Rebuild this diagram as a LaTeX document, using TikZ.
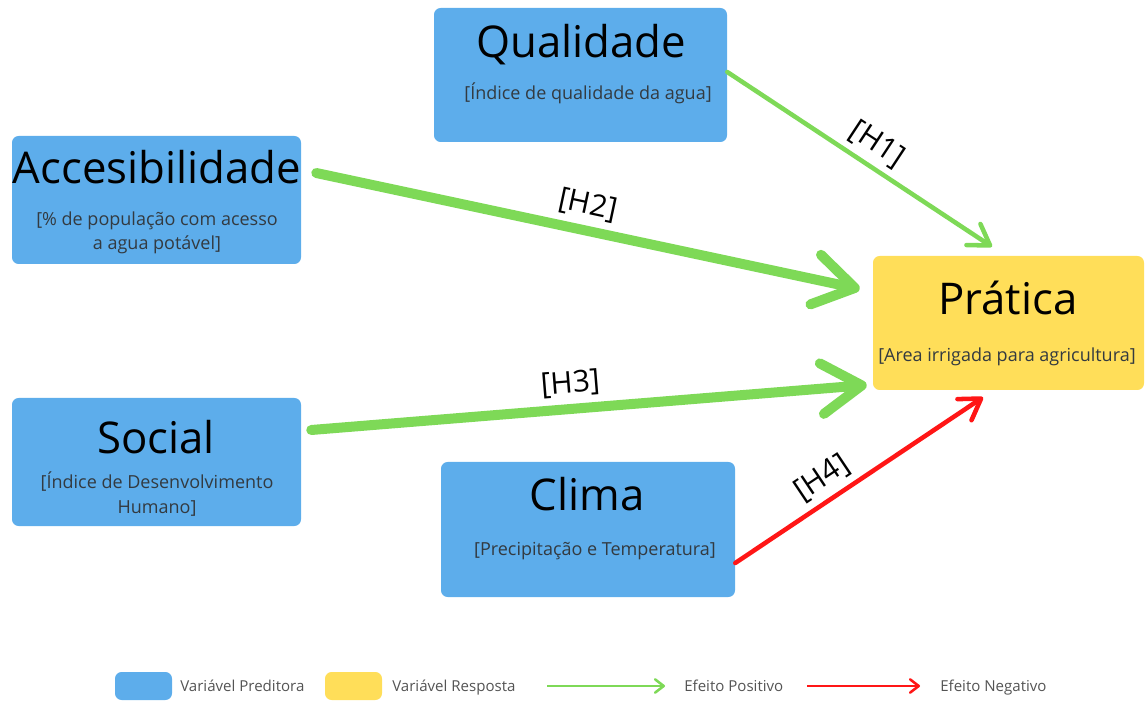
\documentclass[tikz,border=0pt]{standalone}
\usepackage{fontspec}
\setmainfont{Open Sans}
\usetikzlibrary{arrows.meta,calc}

\definecolor{predblue}{HTML}{5DADEB}
\definecolor{respyellow}{HTML}{FFDE59}
\definecolor{posgreen}{HTML}{7ED957}
\definecolor{negred}{HTML}{FF1616}
\definecolor{subgray}{HTML}{333A40}
\definecolor{leggray}{HTML}{545454}

\begin{document}
\begin{tikzpicture}[x=0.75pt,y=-0.75pt,
  varbox/.style={rounded corners=5pt, inner sep=0pt},
  predbox/.style={varbox, fill=predblue},
  respbox/.style={varbox, fill=respyellow},
  vartitle/.style={anchor=base, inner sep=0pt, font=\fontsize{32.8}{38}\selectfont},
  varsub/.style={inner sep=0pt, align=center, text=subgray, font=\fontsize{13.5}{18.5}\selectfont},
  hlabel/.style={sloped, above=5pt, inner sep=0pt, text=black, font=\fontsize{22.5}{26}\selectfont},
  thickeff/.style={line width=7.5pt, line cap=round,
    -{Straight Barb[length=30pt, width=38pt, line cap=round, round]}},
  thineff/.style={line width=3.4pt, line cap=round,
    -{Straight Barb[length=15pt, width=19pt, line cap=round, round]}},
  legeff/.style={line width=1.9pt,
    -{Straight Barb[length=6.5pt, width=10pt, line cap=round, round]}},
  legtext/.style={anchor=base west, inner sep=0pt, text=leggray, font=\fontsize{11.3}{13}\selectfont}]

  % Canvas
  \useasboundingbox (0,0) rectangle (1147,702);

  % Predictor boxes
  \node[predbox, minimum width=219.75pt, minimum height=100.5pt] (qual) at (580.5,75) {};
  \node[predbox, minimum width=216.75pt, minimum height=96pt] (acc) at (156.5,200) {};
  \node[predbox, minimum width=216.75pt, minimum height=96pt] (soc) at (156.5,462) {};
  \node[predbox, minimum width=220.5pt, minimum height=101.25pt] (clim) at (588,529.5) {};

  % Response box
  \node[respbox, minimum width=203.25pt, minimum height=100.5pt] (prat) at (1008.5,323) {};

  % Titles
  \node[vartitle] (qualt) at (581,58) {Qualidade};
  \node[vartitle] (acct) at (157,184) {Accesibilidade};
  \node[vartitle] (soct) at (156,454) {Social};
  \node[vartitle] (climt) at (587,510) {Clima};
  \node[vartitle] (pratt) at (1008,315) {Prática};

  % Descriptions (base = last line)
  \node[varsub, anchor=base] (quals) at (588,100) {[Índice de qualidade da agua]};
  \node[varsub, anchor=base] (accs) at (157,250) {[\% de população com acesso\\a agua potável]};
  \node[varsub, anchor=base] (socs) at (157,513) {[Índice de Desenvolvimento\\Humano]};
  \node[varsub, anchor=base] (clims) at (595,555) {[Precipitação e Temperatura]};
  \node[varsub, anchor=base] (prats) at (1007,362) {[Area irrigada para agricultura]};

  % Hypotheses
  \draw[thineff, posgreen] ($(qual.east)+(0,-3)$) -- ($(prat.north)+(-16.5,-9)$)
    node[hlabel, pos=0.52] (h1) {[H1]};
  \draw[thickeff, posgreen] ($(acc.east)+(15,-27)$) -- ($(prat.west)+(-13,-34)$)
    node[hlabel, pos=0.49] (h2) {[H2]};
  \draw[thickeff, posgreen] ($(soc.east)+(10,-32)$) -- ($(prat.west)+(-6,62)$)
    node[hlabel, pos=0.47] (h3) {[H3]};
  \draw[thineff, negred] ($(clim.east)+(0,33.5)$) -- ($(prat.south)+(-25.5,7)$)
    node[hlabel, pos=0.4] (h4) {[H4]};

  % Legend
  \node[predbox, minimum width=42.75pt, minimum height=21pt] (legpred) at (143.5,686) {};
  \node[legtext] (legpredt) at (180,691) {Variável Preditora};
  \node[respbox, minimum width=42.75pt, minimum height=21pt] (legresp) at (353.5,686) {};
  \node[legtext] (legrespt) at (392,691) {Variável Resposta};

  \coordinate (legposa) at (547,686);
  \coordinate (legposb) at (665,686);
  \draw[legeff, posgreen] (legposa) -- (legposb);
  \node[legtext] (legpost) at (684,691) {Efeito Positivo};

  \coordinate (legnega) at (807,686);
  \coordinate (legnegb) at (920,686);
  \draw[legeff, negred] (legnega) -- (legnegb);
  \node[legtext] (legnegt) at (940,691) {Efeito Negativo};

\end{tikzpicture}
\end{document}
